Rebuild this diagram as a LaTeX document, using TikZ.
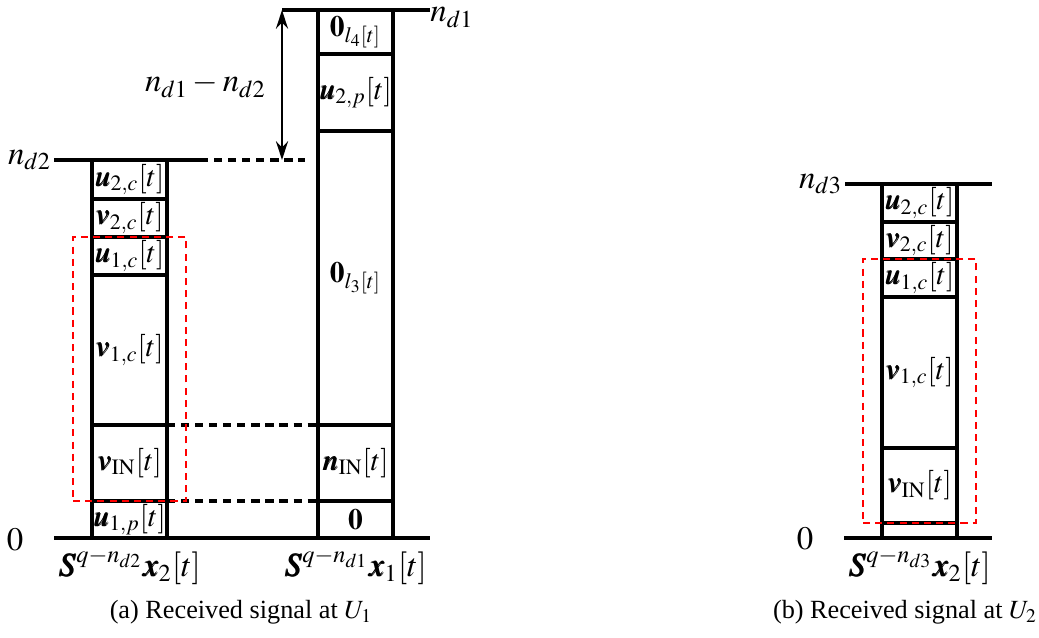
\documentclass[tikz,border=0pt]{standalone}
\usepackage{mathptmx}
\usepackage[no-math]{fontspec}
\setmainfont{Liberation Serif}
\usepackage{bm}
\usetikzlibrary{arrows.meta,positioning,fit}
\tikzset{
  cell/.style={draw,line width=1.3pt,inner sep=0pt,outer sep=0pt,
               minimum width=75*0.015cm,minimum height=#1*0.015cm,
               font=\fontsize{12.6}{14}\selectfont},
  bar/.style ={line width=1.3pt},
  dsh/.style ={line width=1.3pt,dash pattern=on 3.5pt off 2.5pt},
  redbox/.style={draw=red,line width=1.1pt,dash pattern=on 3pt off 2.2pt,
                 inner xsep=19*0.015cm,inner ysep=0pt},
  dar/.style ={{Stealth[length=2.8mm,width=1.8mm]}-{Stealth[length=2.8mm,width=1.8mm]},line width=1.1pt},
  lbl/.style ={font=\fontsize{14}{16}\selectfont},
  captxt/.style ={font=\fontsize{11.2}{13}\selectfont},
}
\begin{document}
\begin{tikzpicture}[x=0.015cm,y=-0.015cm,node distance=0pt]
  \useasboundingbox (0,0) rectangle (1039,638);
  % (a) column of x_2
  \node[cell=39,anchor=north west] (L1) at (92,160) {$\bm{u}_{2,c}[t]$};
  \node[cell=38] (L2) [below=of L1] {$\bm{v}_{2,c}[t]$};
  \node[cell=38] (L3) [below=of L2] {$\bm{u}_{1,c}[t]$};
  \node[cell=150](L4) [below=of L3] {$\bm{v}_{1,c}[t]$};
  \node[cell=76] (L5) [below=of L4] {$\bm{v}_{\mathrm{IN}}[t]$};
  \node[cell=37] (L6) [below=of L5] {$\bm{u}_{1,p}[t]$};
  % (a) column of x_1
  \node[cell=44,anchor=north west] (R1) at (318,10) {$\mathbf{0}_{l_4[t]}$};
  \node[cell=77] (R2) [below=of R1] {$\bm{u}_{2,p}[t]$};
  \node[cell=294](R3) [below=of R2] {$\mathbf{0}_{l_3[t]}$};
  \node[cell=76] (R4) [below=of R3] {$\bm{n}_{\mathrm{IN}}[t]$};
  \node[cell=37] (R5) [below=of R4] {$\mathbf{0}$};
  % (b) column of x_2
  \node[cell=38,anchor=north west] (B1) at (882,184) {$\bm{u}_{2,c}[t]$};
  \node[cell=37] (B2) [below=of B1] {$\bm{v}_{2,c}[t]$};
  \node[cell=38] (B3) [below=of B2] {$\bm{u}_{1,c}[t]$};
  \node[cell=151](B4) [below=of B3] {$\bm{v}_{1,c}[t]$};
  \node[cell=75] (B5) [below=of B4] {$\bm{v}_{\mathrm{IN}}[t]$};
  \node[cell=15] (B6) [below=of B5] {};

  % levels
  \node[lbl,anchor=east,inner sep=1pt] (nd2) at (54,160) {$n_{d2}$};
  \node[lbl,anchor=base west,inner sep=0pt] (nd1) at (430,22) {$n_{d1}$};
  \node[lbl,anchor=east,inner sep=1pt] (nd3) at (845,184) {$n_{d3}$};
  \node[lbl] (z1) at (15,540) {$0$};
  \node[lbl] (z2) at (805,539) {$0$};
  \coordinate (t1) at (282,10);
  \coordinate (d2a) at (200,160);
  \coordinate (d2b) at (305,160);
  \coordinate (ba) at (54,538);
  \coordinate (bb) at (430,538);
  \coordinate (bc) at (844,538);
  \coordinate (bd) at (992,538);
  \draw[bar] (nd2.east) -- (d2a);
  \draw[dsh] (d2a) -- (d2b);
  \draw[bar] (t1) -- (t1 -| nd1.west);
  \draw[bar] (nd3.east) -- (B1.north east) -- ++(35,0);
  \draw[bar] (ba) -- (bb);
  \draw[bar] (bc) -- (bd);
  \draw[dar] (t1) -- node[lbl,left=3pt]{$n_{d1}-n_{d2}$} (t1 |- d2a);
  \draw[dsh] (L4.south east) -- (R3.south west);
  \draw[dsh] (L5.south east) -- (R4.south west);

  % decodable parts
  \node[redbox,fit=(L3)(L5)] (rA) {};
  \node[redbox,fit=(B3)(B5)] (rB) {};

  % signal names
  \node[lbl,below=1pt of L6.south] (sA) {$\bm{S}^{q-n_{d2}}\bm{x}_2[t]$};
  \node[lbl,below=1pt of R5.south] (sB) {$\bm{S}^{q-n_{d1}}\bm{x}_1[t]$};
  \node[lbl,below=1pt of B6.south] (sC) {$\bm{S}^{q-n_{d3}}\bm{x}_2[t]$};
  \node[captxt] (capA) at (241,612) {(a) Received signal at $U_1$};
  \node[captxt] (capB) at (905,612) {(b) Received signal at $U_2$};
\end{tikzpicture}
\end{document}
